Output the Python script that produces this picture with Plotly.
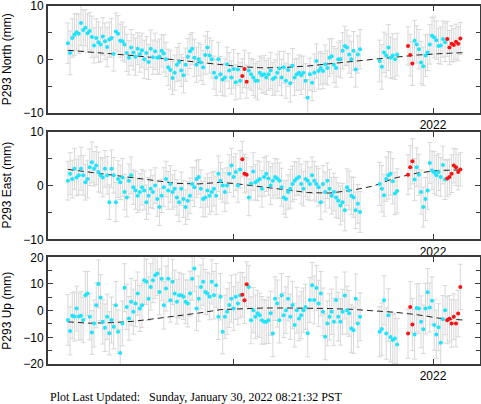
import plotly.graph_objects as go

# time axis: decimal year, one sample every 2 days starting ~2021.083
start_year = 2021.083
days = list(range(0, 270, 2)) + list(range(286, 304, 2)) + list(range(312, 362, 2))
red_days = [160, 162, 164, 312, 314, 316, 348, 350, 352, 354, 356, 358, 360]
model_days = [0, 20, 40, 60, 80, 100, 120, 140, 160, 180, 200, 220, 240, 260, 280, 300, 320, 340, 362]

north = [
    3.0, 1.2, 4.0, 4.6, 5.1, 4.8, 6.8, 5.5, 5.9, 4.9,
    5.3, 4.2, 2.6, 4.0, 3.2, 2.8, 4.3, 3.4, 2.3, 3.7,
    4.0, 1.0, 5.2, 4.8, 3.5, 3.4, 2.8, 1.2, 0.3, 2.2,
    1.3, 0.5, 2.0, 1.0, 1.7, 0.0, 1.2, -0.5, 2.0, 0.4,
    1.5, 0.3, 0.5, 1.6, 1.1, 0.0, -1.5, -2.0, -3.5, -2.5,
    -1.0, -0.5, -2.1, -3.0, -1.0, 0.5, 1.5, 2.0, 0.3, -1.0,
    0.0, -0.6, -1.5, 0.8, 2.2, 0.7, 0.0, -2.5, -3.4, 0.0,
    -2.8, -3.8, -3.4, -0.9, -2.1, -3.4, -1.8, -4.3, -1.9, -4.0,
    -3.1, -1.8, -4.2, -2.1, -2.8, -3.4, -4.0, -4.0, -2.5, -3.0,
    -2.8, -3.4, -2.8, -2.1, -3.7, -3.4, -2.5, -1.7, -3.4, -1.5,
    -4.0, -2.0, -4.5, -1.2, -3.4, -2.8, -2.5, -3.0, -2.5, -4.0,
    -7.2, -2.8, -4.4, -2.5, -0.3, -2.2, -1.6, -2.2, -0.9, -1.6,
    0.3, 0.6, -1.0, -1.6, 0.0, 0.0, 1.6, 2.5, 2.2, 0.9,
    0.0, 1.6, -1.9, 0.9, 1.9,
    -0.3, -1.4, 1.3, 0.7, 2.2, 0.3, 0.7, 0.0, 0.9,
    2.5, 0.8, -0.8, 3.5, 2.8, 1.9, -0.6, -1.3, 0.7, 1.3,
    2.8, 4.4, 4.1, 3.6, 2.5, 2.6, 3.8, 3.2, 3.8, 2.2,
    2.9, 2.7, 3.3, 2.9, 3.9,
]
north_err = [
    3.8, 4.1, 3.6, 3.9, 3.5, 3.7, 4.2, 3.8, 3.4, 3.6,
    3.5, 3.9, 3.3, 3.6, 3.8, 3.2, 3.5, 3.4, 3.7, 3.3,
    3.6, 3.2, 3.5, 3.4, 3.1, 3.6, 3.3, 3.5, 3.2, 3.4,
    3.3, 3.5, 3.0, 3.4, 3.2, 3.6, 3.1, 3.3, 3.5, 3.2,
    3.4, 3.1, 3.3, 3.0, 3.5, 3.2, 3.4, 3.6, 3.1, 3.3,
    3.2, 3.5, 3.0, 3.3, 3.1, 3.4, 3.2, 3.0, 3.5, 3.3,
    3.1, 3.4, 3.2, 3.6, 3.0, 3.3, 3.5, 3.1, 3.4, 3.2,
    3.3, 3.0, 3.5, 3.2, 3.4, 3.1, 3.6, 3.3, 3.0, 3.4,
    3.2, 3.5, 3.1, 3.3, 3.0, 3.4, 3.2, 3.6, 3.1, 3.3,
    3.5, 3.2, 3.0, 3.4, 3.1, 3.3, 3.5, 3.2, 3.4, 3.0,
    3.3, 3.1, 3.5, 3.2, 3.4, 3.0, 3.3, 3.6, 3.1, 3.2,
    3.4, 3.0, 3.3, 3.5, 3.2, 3.4, 3.1, 3.3, 3.6, 3.2,
    3.5, 3.3, 3.4, 3.6, 3.2, 3.5, 3.4, 3.7, 3.3, 3.5,
    3.4, 3.6, 3.3, 3.5, 3.7,
    3.9, 4.2, 3.8, 4.0, 4.3, 3.9, 4.1, 3.8, 4.0,
    3.6, 3.9, 4.1, 3.8, 3.5, 3.7, 4.0, 3.6, 3.9, 3.4,
    3.7, 3.5, 3.8, 3.6, 3.3, 3.5, 3.4, 3.6, 3.3, 3.2,
    3.4, 3.1, 3.3, 3.2, 3.0,
]
north_model = [1.7, 1.4, 1.1, 0.7, 0.3, -0.1, -0.6, -1.0, -1.4, -1.6,
               -1.5, -1.25, -0.8, -0.4, 0.0, 0.4, 0.8, 1.05, 1.25]

east = [
    0.9, 2.2, 1.2, 3.1, 1.5, 1.9, 3.1, 1.9, 0.6, 1.2,
    3.4, 4.3, 3.1, 3.7, 2.5, 1.9, 1.5, 3.1, 1.9, -3.1,
    3.1, 1.9, -3.1, 1.2, 0.6, 1.5, -1.2, -2.2, 0.9, 1.9,
    -0.3, -0.9, -1.9, -1.2, -0.3, -0.9, -3.1, -1.9, -0.6, -1.2,
    0.0, -2.5, -4.0, -1.9, -0.3, 1.2, -0.9, 0.3, -1.2, -0.6,
    -2.2, -3.1, -0.6, -2.5, -4.0, -2.8, -1.9, 0.3, -0.3, 1.2,
    1.6, -0.6, -2.5, -2.2, -0.9, -1.9, -1.2, -0.6, -1.9, 2.2,
    0.9, 0.0, -1.2, 0.0, 2.2, 3.7, 1.6, 2.5, 0.0, 3.0,
    4.9, 2.2, 2.0, -2.2, 0.4, 2.6, 0.6, 0.9, 1.2, -0.6,
    1.6, 2.2, 1.3, 0.0, 0.9, 1.6, 1.3, 0.9, -0.3, -2.2,
    -2.5, -1.2, -0.6, 0.3, 0.9, 1.3, 1.6, 0.3, -0.6, 1.2,
    0.9, 0.3, 1.9, 0.9, 0.3, -0.3, -3.1, 0.3, -1.2, 0.9,
    -0.6, -1.9, -1.2, -2.2, -2.8, -3.7, -3.1, -4.6, -0.3, -0.9,
    -1.9, -2.2, -4.6, -3.4, -4.9,
    0.3, -0.6, -1.8, 1.2, 1.9, 2.2, 0.8, -1.5, -1.0,
    2.0, 3.4, 4.5, 1.1, 3.4, 2.0, -1.2, -4.0, -2.5, -0.9,
    4.2, 2.8, 2.4, 1.9, 2.5, 1.6, 3.8, 1.1, 1.3, 1.6,
    2.2, 3.7, 3.4, 2.5, 3.0,
]
east_err = [
    3.6, 3.9, 3.5, 3.8, 3.4, 3.6, 4.0, 3.7, 3.3, 3.5,
    3.4, 3.8, 3.2, 3.5, 3.7, 3.3, 3.6, 3.4, 3.5, 3.2,
    3.5, 3.3, 3.6, 3.4, 3.2, 3.5, 3.3, 3.6, 3.1, 3.4,
    3.2, 3.5, 3.1, 3.4, 3.3, 3.6, 3.2, 3.4, 3.5, 3.1,
    3.3, 3.2, 3.4, 3.1, 3.6, 3.3, 3.5, 3.4, 3.2, 3.4,
    3.3, 3.6, 3.1, 3.4, 3.2, 3.5, 3.3, 3.1, 3.6, 3.4,
    3.2, 3.5, 3.3, 3.6, 3.1, 3.4, 3.6, 3.2, 3.5, 3.3,
    3.4, 3.1, 3.6, 3.3, 3.5, 3.2, 3.7, 3.4, 3.1, 3.5,
    3.3, 3.6, 3.2, 3.4, 3.1, 3.5, 3.3, 3.7, 3.2, 3.4,
    3.6, 3.3, 3.1, 3.5, 3.2, 3.4, 3.6, 3.3, 3.5, 3.1,
    3.4, 3.2, 3.6, 3.3, 3.5, 3.1, 3.4, 3.7, 3.2, 3.3,
    3.5, 3.1, 3.4, 3.6, 3.3, 3.5, 3.2, 3.4, 3.7, 3.3,
    3.6, 3.4, 3.5, 3.7, 3.3, 3.6, 3.5, 3.8, 3.4, 3.6,
    3.5, 3.7, 3.4, 3.6, 3.8,
    4.0, 4.3, 3.9, 4.1, 4.4, 4.0, 4.2, 3.9, 4.1,
    3.7, 4.0, 4.2, 3.9, 3.6, 3.8, 4.1, 3.7, 4.0, 3.5,
    3.8, 3.6, 3.9, 3.7, 3.4, 3.6, 3.5, 3.7, 3.4, 3.3,
    3.5, 3.2, 3.4, 3.3, 3.1,
]
east_model = [3.0, 2.5, 2.0, 1.5, 1.0, 0.4, 0.3, 0.6, 0.2, -0.3,
              -0.8, -1.3, -1.4, -0.9, -0.1, 1.4, 2.3, 2.8, 2.9]

up = [
    -3.5, -7.6, -1.9, -2.2, 0.8, -2.2, -1.9, -3.5, 5.8, 6.4,
    -2.3, -8.2, -4.8, 2.0, 10.0, 4.9, -4.2, -6.4, -2.3, -8.5,
    -3.5, -6.0, 2.0, -7.9, -15.9, -4.8, 8.6, 1.4, -2.9, 3.3,
    -0.4, 2.7, 6.4, 0.8, 2.0, 11.4, 10.8, 4.5, 8.9, 11.4,
    13.3, 13.9, 7.0, 12.0, 2.0, 8.3, 12.0, 3.9, 10.8, 6.4,
    3.3, 5.8, 5.8, 5.2, 3.3, 2.7, 6.4, 12.0, 15.8, 0.8,
    4.5, 8.9, 10.8, 7.0, 6.4, 5.2, 10.8, 5.8, 9.5, -2.3,
    5.2, -7.9, -2.3, -0.4, 2.1, 4.5, 0.8, 5.2, 2.7, 5.8,
    6.0, 3.9, 9.9, 8.9, -3.6, 0.2, -2.3, -1.0, -1.7, -3.6,
    -4.2, -4.2, -3.6, -1.0, -8.6, 4.5, 2.7, -3.6, 5.8, -1.7,
    0.2, 4.5, -2.3, 2.1, -5.4, 0.2, -2.9, -1.7, 0.2, 1.4,
    -8.5, 4.0, 9.5, 4.0, 8.5, 2.7, 6.4, -0.4, -9.8, -4.8,
    -2.3, -0.4, -4.2, 4.0, -2.3, -4.2, -0.4, 5.7, 0.2, -1.0,
    -6.7, -7.3, 4.5, -4.8, -2.3,
    -7.9, -6.9, 3.9, -8.6, -1.7, -9.9, -11.0, -10.4, -12.7,
    -8.6, 1.4, -5.2, -8.9, 1.0, 0.8, -4.2, -7.0, 0.8, 6.9,
    1.2, 3.7, -5.4, -8.9, -6.2, -12.0, -3.2, 0.2, -3.6, -3.0,
    -4.8, -2.3, -4.8, -1.1, 8.9,
]
up_err = [
    9.5, 9.0, 8.6, 9.2, 8.4, 8.8, 9.1, 8.5, 8.9, 8.3,
    8.7, 8.2, 8.8, 8.4, 9.0, 8.6, 8.3, 8.9, 8.5, 8.1,
    8.6, 8.3, 8.9, 8.2, 8.7, 8.4, 9.0, 8.5, 8.2, 8.8,
    8.4, 8.7, 8.1, 8.6, 8.3, 8.9, 8.5, 8.2, 8.7, 8.4,
    8.8, 8.3, 8.6, 8.1, 8.9, 8.4, 8.7, 8.2, 8.5, 8.8,
    8.3, 8.6, 8.0, 8.5, 8.2, 8.8, 8.4, 8.1, 8.7, 8.3,
    8.5, 8.2, 8.8, 8.4, 8.0, 8.6, 8.3, 8.9, 8.2, 8.5,
    8.7, 8.3, 8.1, 8.6, 8.4, 8.8, 8.2, 8.5, 8.0, 8.6,
    8.3, 8.7, 8.4, 8.1, 8.8, 8.5, 8.2, 8.6, 8.3, 8.9,
    8.4, 8.1, 8.7, 8.3, 8.6, 8.2, 8.8, 8.5, 8.1, 8.4,
    8.7, 8.3, 8.5, 8.9, 8.2, 8.6, 8.4, 8.8, 8.3, 8.5,
    8.8, 8.4, 8.6, 9.0, 8.5, 8.7, 8.3, 8.9, 8.6, 8.4,
    8.7, 8.5, 8.9, 8.6, 9.1, 8.7, 8.4, 8.8, 9.0, 8.6,
    8.9, 8.7, 9.2, 8.8, 9.0,
    9.4, 9.8, 9.2, 9.6, 9.9, 9.3, 9.7, 9.5, 9.8,
    9.2, 9.5, 9.8, 9.3, 9.0, 9.4, 9.7, 9.1, 9.5, 8.9,
    9.2, 9.0, 9.4, 9.1, 8.8, 9.0, 8.9, 9.2, 8.8, 8.7,
    8.9, 8.6, 8.8, 8.7, 8.5,
]
up_model = [-4.2, -4.7, -4.5, -4.0, -3.0, -2.0, -0.9, 0.4, 0.8, 1.0,
            1.0, 1.0, 0.8, 0.5, 0.0, -0.6, -1.5, -2.8, -3.5]

panels = [
    ("P293 North (mm)", north, north_err, north_model, [-10, 10], [-10, 0, 10], [-5, 5]),
    ("P293 East (mm)", east, east_err, east_model, [-10, 10], [-10, 0, 10], [-5, 5]),
    ("P293 Up (mm)", up, up_err, up_model, [-20, 20], [-20, -10, 0, 10, 20], [-15, -5, 5, 15]),
]
domains = [[0.702, 1.0], [0.348, 0.649], [0.0, 0.298]]

xs = [start_year + d / 365.25 for d in days]
mxs = [start_year + d / 365.25 for d in model_days]
is_red = [d in red_days for d in days]

FONT = "Liberation Sans, Arial, Helvetica, sans-serif"
FRAME = "#3a3a3a"

fig = go.Figure()
for i, (title, vals, errs, model, yrange, ticks, minor_ticks) in enumerate(panels):
    xa = "x" if i == 0 else f"x{i + 1}"
    ya = "y" if i == 0 else f"y{i + 1}"

    # grey error bars underneath everything
    fig.add_trace(go.Scatter(
        x=xs, y=vals, mode="markers", xaxis=xa, yaxis=ya,
        marker=dict(size=1, color="rgba(0,0,0,0)"),
        error_y=dict(type="data", array=errs, color="#d8d8d8", thickness=1, width=2.5),
        hoverinfo="skip", showlegend=False,
    ))
    # model fit
    fig.add_trace(go.Scatter(
        x=mxs, y=model, mode="lines", xaxis=xa, yaxis=ya,
        line=dict(color="#222222", width=1, dash="6px,4px"),
        showlegend=False,
    ))
    cx = [x for x, r in zip(xs, is_red) if not r]
    cy = [v for v, r in zip(vals, is_red) if not r]
    rx = [x for x, r in zip(xs, is_red) if r]
    ry = [v for v, r in zip(vals, is_red) if r]
    fig.add_trace(go.Scatter(
        x=cx, y=cy, mode="markers", xaxis=xa, yaxis=ya,
        marker=dict(size=4, color="#1de4ff"), showlegend=False,
    ))
    fig.add_trace(go.Scatter(
        x=rx, y=ry, mode="markers", xaxis=xa, yaxis=ya,
        marker=dict(size=4, color="#ff1010"), showlegend=False,
    ))

    axis_common = dict(showline=True, linecolor=FRAME, linewidth=2, mirror="ticks",
                       ticks="inside", ticklen=5, tickcolor=FRAME, tickwidth=1,
                       showgrid=False, zeroline=False, automargin=False,
                       ticklabeloverflow="allow",
                       tickfont=dict(family=FONT, size=12, color="black"))
    xkey = "xaxis" if i == 0 else f"xaxis{i + 1}"
    ykey = "yaxis" if i == 0 else f"yaxis{i + 1}"
    fig.update_layout({
        xkey: dict(axis_common, range=[2021.033, 2022.118], anchor=ya,
                   tickvals=[2021.5, 2022], ticktext=["", "2022"]),
        ykey: dict(axis_common, range=yrange, domain=domains[i], anchor=xa,
                   tickvals=ticks,
                   minor=dict(tickvals=minor_ticks, ticks="inside", ticklen=4,
                              tickcolor=FRAME)),
    })
    # y-axis title placed by hand so it sits close to the left edge
    fig.add_annotation(
        text=title, textangle=-90, xref="paper", yref="paper",
        x=-41 / 432, y=sum(domains[i]) / 2, xanchor="center", yanchor="middle",
        showarrow=False, font=dict(family=FONT, size=12, color="black"),
    )

fig.add_annotation(
    text="Plot Last Updated:&nbsp;&nbsp;&nbsp;Sunday, January 30, 2022 08:21:32 PST",
    xref="paper", yref="paper", x=0, y=-0.092, xanchor="left", yanchor="middle",
    showarrow=False, font=dict(family="Liberation Serif, Times New Roman, serif", size=12, color="black"),
)

fig.update_layout(
    width=481, height=404,
    margin=dict(l=48, r=1, t=6, b=40),
    plot_bgcolor="white", paper_bgcolor="white",
    showlegend=False,
)

# page body has a default 8px margin; drop it so the figure fills the window
fig.write_html("out.html", config={"displayModeBar": False},
               post_script="document.body.style.margin='0';")
